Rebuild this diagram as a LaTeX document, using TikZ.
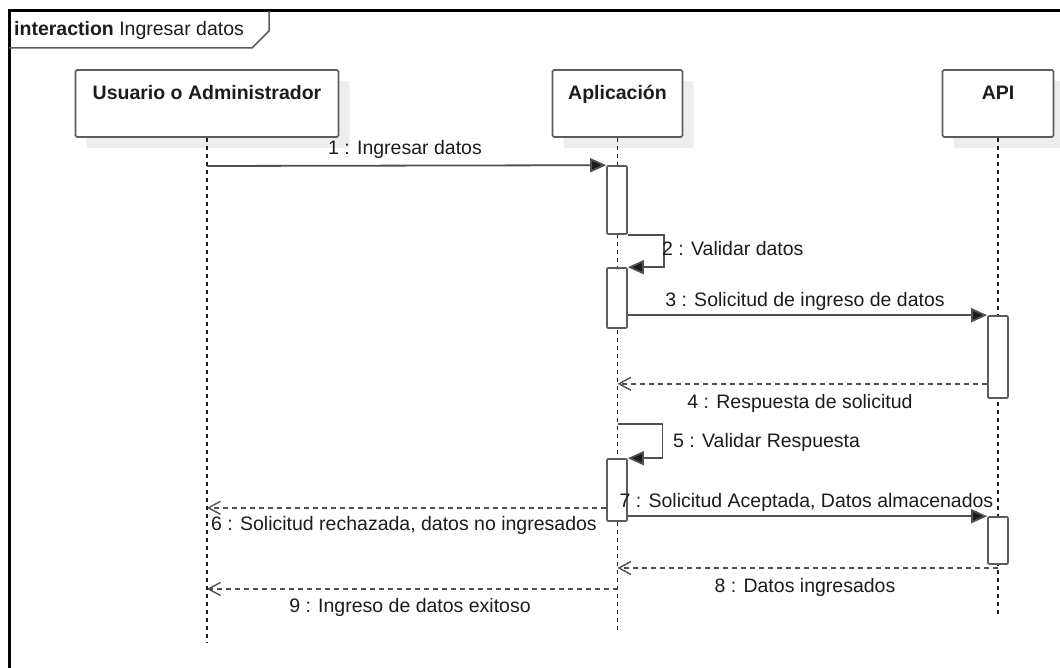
\documentclass[tikz,border=0pt]{standalone}
\usepackage{fontspec}
\setmainfont{Liberation Sans}
\usetikzlibrary{arrows.meta,shadows}
\definecolor{inkcol}{HTML}{1C1C1C}
\definecolor{linecol}{HTML}{505050}
\definecolor{boxcol}{HTML}{5C5C5C}
\definecolor{shadecol}{HTML}{EDEDED}
\tikzset{
  lifehead/.style={draw=boxcol, line width=1.6pt, fill=white, rounded corners=1.5pt,
    minimum width=#1, minimum height=67pt, inner sep=0pt,
    drop shadow={shadow xshift=11pt, shadow yshift=-11pt, fill=shadecol, opacity=1}},
  actbar/.style={draw=boxcol, line width=1.6pt, fill=white, rounded corners=1pt,
    minimum width=20pt, minimum height=#1, inner sep=0pt},
  lifeline/.style={draw=inkcol, line width=1.5pt, dash pattern=on 4pt off 4pt},
  msg/.style={draw=linecol, line width=1.8pt, -{Triangle[length=16pt,width=14pt,fill=inkcol]}},
  ret/.style={draw=linecol, line width=1.6pt, dash pattern=on 5pt off 4pt,
    -{Straight Barb[length=12pt,width=13pt,line width=1.4pt]}},
  msgtext/.style={anchor=base, text=inkcol, inner sep=0pt},
  headtext/.style={anchor=base, text=inkcol, inner sep=0pt, font=\fontsize{19.5}{22}\selectfont\bfseries},
}
\begin{document}
\begin{tikzpicture}[x=1pt, y=-1pt, font=\fontsize{19.5}{22}\selectfont]
\useasboundingbox (0,0) rectangle (1060,668);
\clip (0,0) rectangle (1060,668);
\fill[white] (0,0) rectangle (1060,668);

% interaction frame and its name tab
\draw[draw=black, line width=3pt] (9,720) -- (9,11) -- (1120,11);
\draw[draw=boxcol, line width=1.5pt] (9,48) -- (252,48) -- (269,31) -- (269,11);
\node[anchor=base west, text=inkcol, inner sep=0pt] (frametitle) at (14,35.5)
  {\textbf{interaction} Ingresar datos};

% lifeline heads
\node[lifehead=263pt] (user) at (207,103.5) {};
\node[lifehead=130pt] (app) at (617.5,103.5) {};
\node[lifehead=111pt] (api) at (998,103.5) {};
\node[headtext] (usertxt) at (207,100) {Usuario o Administrador};
\node[headtext] (apptxt) at (617.5,99.5) {Aplicación};
\node[headtext] (apitxt) at (998,99.5) {API};

% lifeline ends
\coordinate (userend) at (207,643);
\coordinate (append) at (617.5,633);
\coordinate (apiend) at (998,614);
\draw[lifeline] (user.south) -- (userend);
\draw[lifeline] (app.south) -- (append);
\draw[lifeline] (api.south) -- (apiend);

% activation bars
\node[actbar=68pt] (bar1) at (617,200) {};
\node[actbar=60pt] (bar2) at (617,298) {};
\node[actbar=62pt] (bar3) at (617,490) {};
\node[actbar=82pt] (apibar1) at (998,357) {};
\node[actbar=47pt] (apibar2) at (998,540.5) {};

% points where messages leave or reach a lifeline
\coordinate (m1) at (207,166);
\coordinate (m5) at (617.5,424);
\coordinate (m8) at (998,568);
\coordinate (m9) at (617.5,589);

% messages
\draw[msg] (m1) -- (bar1.north west);
\draw[msg] (bar1.south east) -- ++(36,0) |- (bar2.north east);
\draw[msg] (apibar1.north west -| bar2.east) -- (apibar1.north west);
\draw[ret] ([yshift=15pt]apibar1.south west) -- ([yshift=15pt]apibar1.south west -| app.south);
\draw[msg] (m5) -- ++(45,0) |- (bar3.north east);
\draw[ret] ([yshift=14pt]bar3.south west) -- ([yshift=14pt]bar3.south west -| user.south);
\draw[msg] (apibar2.north west -| bar3.east) -- (apibar2.north west);
\draw[ret] (m8) -- (m8 -| app.south);
\draw[ret] (m9) -- (m9 -| user.south);

% message labels
\node[msgtext] (t1) at (405,155) {1 : Ingresar datos};
\node[msgtext, anchor=base west] (t2) at (662,256) {2 : Validar datos};
\node[msgtext] (t3) at (805,306) {3 : Solicitud de ingreso de datos};
\node[msgtext] (t4) at (800,408) {4 : Respuesta de solicitud};
\node[msgtext, anchor=base west] (t5) at (673,447) {5 : Validar Respuesta};
\node[msgtext] (t6) at (404,530.5) {6 : Solicitud rechazada, datos no ingresados};
\node[msgtext] (t7) at (806.5,507) {7 : Solicitud Aceptada, Datos almacenados};
\node[msgtext] (t8) at (805,592) {8 : Datos ingresados};
\node[msgtext] (t9) at (410,612.5) {9 : Ingreso de datos exitoso};
\end{tikzpicture}
\end{document}
